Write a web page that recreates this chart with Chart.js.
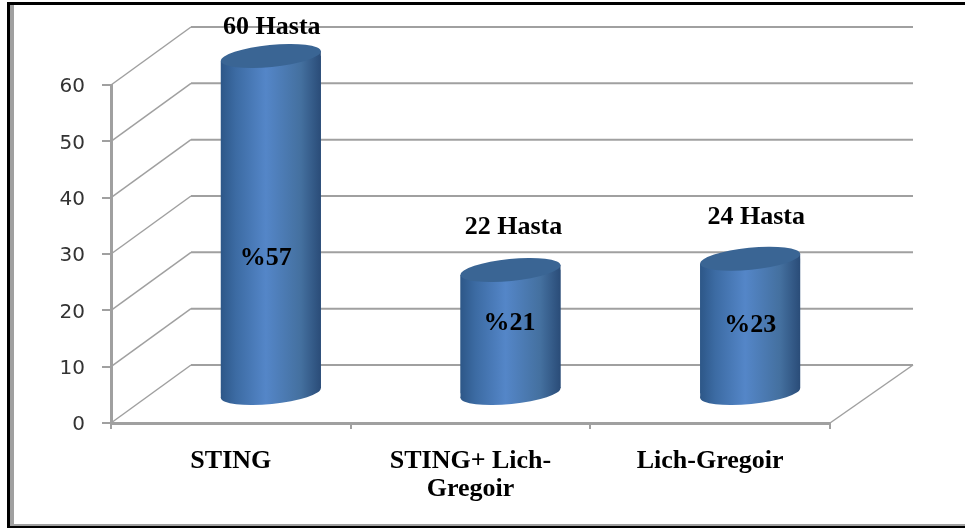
<!DOCTYPE html>
<html>
<head>
<meta charset="utf-8">
<title>Hasta</title>
<script src="https://cdn.jsdelivr.net/npm/chart.js@4/dist/chart.umd.min.js"></script>
<style>
  html, body { margin: 0; padding: 0; background: #fff; }
  canvas { display: block; filter: blur(0.6px); }
</style>
</head>
<body>
<canvas id="chart" width="965" height="530"></canvas>
<script>
let categories = [["STING"], ["STING+ Lich-", "Gregoir"], ["Lich-Gregoir"]];
let patients = [60, 22, 24];
let countLabels = ["60 Hasta", "22 Hasta", "24 Hasta"];
let percentLabels = ["%57", "%21", "%23"];

let yMax = 60;
let yStep = 10;

// where the labels sit in the picture
let countLabelY = [27, 227, 217];
let countLabelDx = [1, 3, 6];
let percentLabelY = [258, 323, 325];
let percentLabelDx = [-5, -1, 0];

// the "3d" look: bars stand in the middle of the floor, back wall is further up/right
let wallDx = 80;
let wallDy = -58;
let barDx = 40;
let barDy = -29;
let ellipseRy = 11;
let ellipseTilt = -0.1;
let gridColor = "#a0a0a0";

function barGradient(ctx, center, width) {
  let g = ctx.createLinearGradient(center - width / 2, 0, center + width / 2, 0);
  g.addColorStop(0, "#2d5788");
  g.addColorStop(0.15, "#3c6ba3");
  g.addColorStop(0.45, "#5486c8");
  g.addColorStop(0.8, "#44709f");
  g.addColorStop(1, "#2a4c78");
  return g;
}

let framePlugin = {
  id: "frame",
  beforeDraw(chart) {
    let ctx = chart.ctx;
    ctx.save();
    ctx.fillStyle = "#fff";
    ctx.fillRect(0, 0, 965, 530);
    ctx.fillStyle = "#a0a0a0";
    ctx.fillRect(10, 4, 4, 523);
    ctx.fillRect(10, 524, 955, 2);
    ctx.fillStyle = "#000";
    ctx.fillRect(7, 2, 958, 3);
    ctx.fillRect(7, 2, 3, 525);
    ctx.fillRect(7, 526, 958, 2);
    ctx.restore();
  }
};

let wallPlugin = {
  id: "wall",
  beforeDatasetsDraw(chart) {
    let ctx = chart.ctx;
    let y = chart.scales.y;
    let x = chart.scales.x;
    ctx.save();
    ctx.strokeStyle = gridColor;
    y.ticks.forEach(t => {
      let py = y.getPixelForValue(t.value);
      ctx.lineWidth = 1.5;
      ctx.beginPath();
      ctx.moveTo(x.left, py);
      ctx.lineTo(x.left + wallDx, py + wallDy);
      ctx.stroke();
      ctx.lineWidth = 2;
      ctx.beginPath();
      ctx.moveTo(x.left + wallDx, py + wallDy);
      ctx.lineTo(x.right + wallDx + 3, py + wallDy);
      ctx.stroke();
    });
    ctx.lineWidth = 1.5;
    ctx.beginPath();
    ctx.moveTo(x.right, y.bottom);
    ctx.lineTo(x.right + wallDx + 3, y.bottom + wallDy);
    ctx.stroke();
    ctx.restore();
  }
};

function tiltedEllipse(ctx, cx, cy, rx) {
  ctx.ellipse(cx, cy, rx / Math.cos(ellipseTilt), ellipseRy, ellipseTilt, 0, Math.PI * 2);
}

function cylinderBody(ctx, el) {
  let rx = el.width / 2;
  let lean = rx * Math.tan(ellipseTilt);
  ctx.moveTo(el.x - rx, el.y - lean);
  ctx.lineTo(el.x + rx, el.y + lean);
  ctx.lineTo(el.x + rx, el.base + lean);
  ctx.lineTo(el.x - rx, el.base - lean);
  ctx.closePath();
}

let cylinderPlugin = {
  id: "cylinder",
  beforeDatasetDraw(chart, args) {
    let ctx = chart.ctx;
    ctx.save();
    ctx.translate(barDx, barDy);
    // cut the flat bar ends so only the cylinder outline is left
    ctx.beginPath();
    args.meta.data.forEach(el => cylinderBody(ctx, el));
    ctx.clip();
  },
  afterDatasetDraw(chart, args) {
    let ctx = chart.ctx;
    ctx.restore();
    ctx.save();
    ctx.translate(barDx, barDy);
    args.meta.data.forEach(el => {
      let rx = el.width / 2;
      ctx.fillStyle = barGradient(ctx, el.x, el.width);
      // the flat bar leaves the sloped corners open, so close them
      ctx.beginPath();
      cylinderBody(ctx, el);
      ctx.fill();
      ctx.beginPath();
      tiltedEllipse(ctx, el.x, el.base, rx);
      ctx.fill();
      ctx.fillStyle = "#3a6594";
      ctx.beginPath();
      tiltedEllipse(ctx, el.x, el.y, rx);
      ctx.fill();
    });
    ctx.restore();
  }
};

let labelPlugin = {
  id: "barLabels",
  afterDatasetsDraw(chart) {
    let ctx = chart.ctx;
    let meta = chart.getDatasetMeta(0);
    ctx.save();
    ctx.fillStyle = "#000";
    ctx.textAlign = "center";
    ctx.textBaseline = "middle";
    ctx.font = "bold 26px 'Liberation Serif'";
    meta.data.forEach((el, i) => {
      let cx = el.x + barDx;
      ctx.fillText(countLabels[i], cx + countLabelDx[i], countLabelY[i]);
      ctx.fillText(percentLabels[i], cx + percentLabelDx[i], percentLabelY[i]);
    });
    ctx.restore();
  }
};

new Chart(document.getElementById("chart"), {
  type: "bar",
  data: {
    labels: categories,
    datasets: [{
      data: patients,
      barThickness: 100,
      clip: false,
      backgroundColor: c => {
        let x = c.chart.scales.x;
        let center = x ? x.getPixelForValue(c.dataIndex) : NaN;
        if (!Number.isFinite(center)) return "#4f81bd";
        return barGradient(c.chart.ctx, center, 100);
      }
    }]
  },
  options: {
    responsive: false,
    animation: false,
    layout: { padding: { top: 85, right: 135, left: 0, bottom: 0 } },
    plugins: { legend: { display: false }, tooltip: { enabled: false } },
    scales: {
      x: {
        afterFit: s => { s.height = 107; },
        grid: { drawOnChartArea: false, color: gridColor, lineWidth: 2, tickLength: 6, offset: true },
        border: { color: gridColor, width: 3 },
        ticks: {
          color: "#000",
          padding: 18,
          maxRotation: 0,
          font: { family: "'Liberation Serif'", weight: "bold", size: 26, lineHeight: 1.08 }
        }
      },
      y: {
        min: 0,
        max: yMax,
        afterFit: s => { s.width = 111; },
        grid: { drawOnChartArea: false, color: gridColor, lineWidth: 2, tickLength: 9 },
        border: { color: gridColor, width: 3 },
        ticks: {
          stepSize: yStep,
          color: "#333",
          padding: 17,
          labelOffset: 2,
          font: { family: "'DejaVu Sans'", size: 20 }
        }
      }
    }
  },
  plugins: [framePlugin, wallPlugin, cylinderPlugin, labelPlugin]
});
</script>
</body>
</html>
